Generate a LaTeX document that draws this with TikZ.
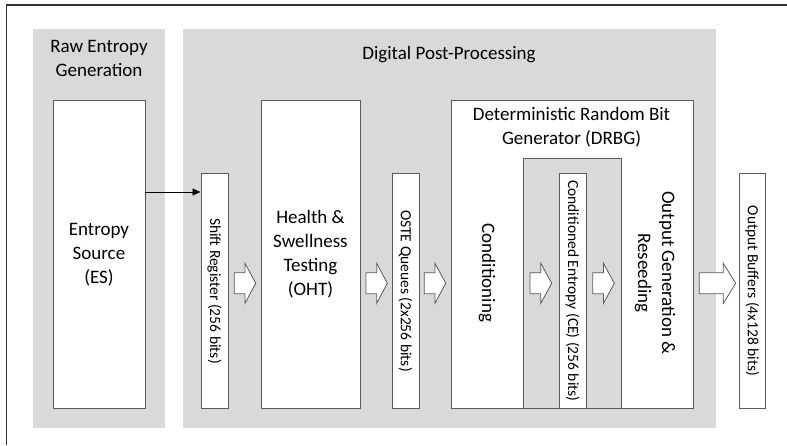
\documentclass[tikz,border=0pt]{standalone}
\usepackage{fontspec}
\setmainfont{Carlito}
\usetikzlibrary{arrows.meta}

\definecolor{panelgray}{HTML}{D9D9D9}
\definecolor{edgegray}{HTML}{5A5A5A}
\definecolor{framegray}{HTML}{333333}

\tikzset{
	panel/.style={fill=panelgray, draw=none, anchor=north west, inner sep=0pt},
	block/.style={draw=edgegray, fill=white, line width=0.9pt, anchor=north west, inner sep=0pt},
	bigtext/.style={font=\fontsize{19}{24}\selectfont, text=black, align=center},
	smalltext/.style={font=\fontsize{15.5}{18}\selectfont, text=black, rotate=-90},
	hollow/.style={draw=edgegray, fill=white, line width=0.8pt, line join=miter},
}

\begin{document}
\begin{tikzpicture}[x=1pt, y=-1pt]
		\useasboundingbox (0,0) rectangle (787,445);
		% outer frame (only top and left edges visible)
		\draw[framegray, line width=1.6pt] (6.5,445) -- (6.5,4.8) -- (787,4.8);
		% grey panels
		\node[panel, minimum width=132pt, minimum height=399pt] (rawpanel) at (33,29) {};
		\node[panel, minimum width=533pt, minimum height=399pt] (dpppanel) at (183,29) {};
		\node[bigtext] (rawtitle) at (99,58) {Raw Entropy\\Generation};
		\node[bigtext] (dpptitle) at (449,55) {Digital Post-Processing};
		% blocks
		\node[block, minimum width=92pt,  minimum height=308pt] (es)   at (52.5,100) {};
		\node[block, minimum width=27pt,  minimum height=235pt] (sr)   at (200.5,173) {};
		\node[block, minimum width=99pt,  minimum height=308pt] (oht)  at (260.5,100) {};
		\node[block, minimum width=27pt,  minimum height=235pt] (oste) at (391.5,173) {};
		\node[block, minimum width=241.5pt, minimum height=308pt] (drbg) at (451,100) {};
		\node[block, fill=panelgray, minimum width=98pt, minimum height=250pt] (cebay) at (523,158) {};
		\node[block, minimum width=27pt,  minimum height=235pt] (ce)   at (558.5,173) {};
		\node[block, minimum width=26.5pt, minimum height=235pt] (ob)  at (738.5,173) {};
		% labels
		\node[bigtext] (eslabel)   at (es.center) {Entropy\\Source\\(ES)};
		\node[bigtext] (ohtlabel)  at (oht.center) {Health \&\\Swellness\\Testing\\(OHT)};
		\node[bigtext] (drbglabel) at (571.5,127) {Deterministic Random Bit\\Generator (DRBG)};
		\node[bigtext, rotate=-90] (condlabel) at (487,273) {Conditioning};
		\node[bigtext, rotate=-90] (outlabel)  at (655,273) {Output Generation \&\\Reseeding};
		\node[smalltext] (srlabel)   at (sr.center)   {Shift Register (256 bits)};
		\node[smalltext] (ostelabel) at (oste.center) {OSTE Queues (2x256 bits)};
		\node[smalltext] (celabel)   at (ce.center)   {Conditioned Entropy (CE) (256 bits)};
		\node[smalltext] (oblabel)   at (ob.center)   {Output Buffers (4x128 bits)};
		% entropy source feeds the shift register
		\coordinate (tap) at (144.5,192);
		\draw[-{Triangle[length=8pt, width=7pt]}, line width=0.9pt] (tap) -- (tap -| sr.west);
		% hollow block arrows
		\foreach \xa/\xb/\xc in {234.3/245/255.7, 366/376.7/387.3, 424.3/435/445.7, 530/540.8/551.7, 592.7/603.5/614.3, 699.3/723.3/735.7}
			\draw[hollow] (\xa,272.8) -- (\xb,272.8) -- (\xb,263.3) -- (\xc,283.3) -- (\xb,303.3) -- (\xb,293.8) -- (\xa,293.8) -- cycle;
	\end{tikzpicture}
\end{document}
